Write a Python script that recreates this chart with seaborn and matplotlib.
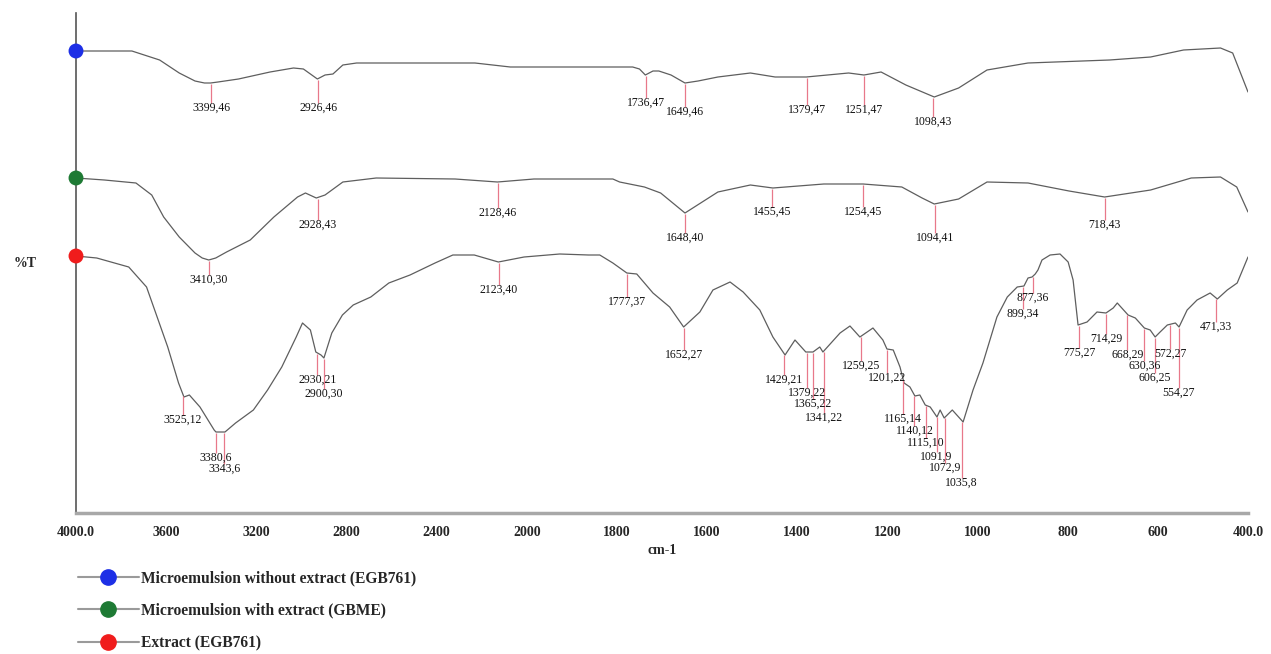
import numpy as np
import pandas as pd
import matplotlib
matplotlib.use("Agg")
import matplotlib.pyplot as plt
from matplotlib.lines import Line2D
from matplotlib.font_manager import FontProperties
import seaborn as sns

sns.set_style("white")
plt.rcParams["font.family"] = ["Liberation Serif", "DejaVu Serif"]

# ---------------- data (wavenumber cm-1, offset %T in arbitrary units) ----------------
series_names = ["Microemulsion without extract (EGB761)",
                "Microemulsion with extract (GBME)",
                "Extract (EGB761)"]

blue_wn = [4000, 3752, 3629, 3542, 3472, 3430, 3403, 3370, 3279, 3139, 3035, 2991, 2929,
           2895, 2860, 2816, 2755, 2230, 2073, 1765, 1750, 1737, 1720, 1707, 1680, 1649,
           1620, 1576, 1504, 1449, 1380, 1286, 1252, 1214, 1159, 1096, 1042, 979, 888, 707,
           616, 543, 461, 434, 400]
blue_T = [462, 462, 453, 440, 432, 430, 430, 431, 434, 441, 445, 444, 434,
          438, 439, 448, 450, 450, 446, 446, 444, 438, 442, 442, 438, 430,
          432, 436, 440, 436, 436, 440, 438, 441, 428, 416, 425, 443, 450, 453,
          456, 463, 465, 460, 421]

green_wn = [4000, 3874, 3734, 3664, 3611, 3542, 3472, 3440, 3411, 3380, 3332, 3227, 3122,
            3017, 2982, 2934, 2895, 2816, 2668, 2318, 2130, 1984, 1809, 1794, 1739, 1703,
            1649, 1576, 1504, 1454, 1341, 1254, 1168, 1123, 1096, 1042, 979, 888, 797, 718,
            616, 526, 461, 425, 400]
green_T = [335, 333, 330, 318, 296, 276, 260, 255, 253, 255, 261, 273, 296,
           316, 320, 315, 318, 331, 335, 334, 331, 334, 334, 331, 326, 320,
           300, 321, 328, 325, 329, 329, 326, 315, 309, 314, 331, 330, 322, 316,
           323, 335, 336, 326, 301]

red_wn = [4000, 3908, 3766, 3687, 3640, 3593, 3545, 3521, 3497, 3450, 3387, 3379, 3339,
          3292, 3213, 3150, 3087, 3023, 2995, 2960, 2936, 2913, 2900, 2865, 2818, 2770,
          2692, 2612, 2518, 2407, 2328, 2233, 2126, 2012, 1927, 1863, 1838, 1809, 1778,
          1756, 1720, 1683, 1652, 1616, 1587, 1549, 1520, 1483, 1454, 1427, 1405, 1381,
          1365, 1350, 1343, 1305, 1283, 1261, 1232, 1210, 1201, 1187, 1172, 1163, 1150,
          1139, 1128, 1116, 1105, 1090, 1083, 1074, 1056, 1032, 1010, 988, 957, 934, 912,
          897, 888, 879, 872, 866, 857, 839, 817, 799, 788, 777, 757, 735, 715, 699, 690,
          672, 666, 650, 630, 617, 606, 595, 579, 570, 561, 553, 535, 513, 484, 468, 446,
          424, 400]
red_T = [257, 255, 246, 226, 196, 166, 130, 116, 118, 106, 83, 81, 81,
         90, 103, 123, 146, 176, 190, 183, 161, 158, 155, 180, 198, 208,
         216, 230, 238, 250, 258, 258, 251, 256, 259, 258, 258, 250, 240,
         239, 220, 206, 186, 201, 223, 231, 221, 203, 176, 158, 173, 161,
         161, 166, 161, 180, 187, 176, 185, 173, 164, 163, 146, 130, 126,
         117, 118, 108, 106, 96, 103, 95, 103, 91, 123, 150, 196, 216, 226,
         227, 235, 236, 239, 243, 253, 258, 259, 251, 233, 188, 191, 201, 200, 205, 210,
         201, 198, 195, 185, 183, 176, 181, 188, 189, 190, 186, 203, 213, 220, 214, 223,
         230, 256]

# annotated peaks: wavenumber and %T value printed in the label
blue_peak_wn = [3399, 2926, 1736, 1649, 1379, 1251, 1098]
blue_peak_T = [46, 46, 47, 46, 47, 47, 43]
green_peak_wn = [3410, 2928, 2128, 1648, 1455, 1254, 1094, 718]
green_peak_T = [30, 43, 46, 40, 45, 45, 41, 43]
red_peak_wn = [3525, 3380, 3343, 2930, 2900, 2123, 1777, 1652, 1429, 1379, 1365, 1341,
               1259, 1201, 1165, 1140, 1115, 1091, 1072, 1035, 899, 877, 775, 714, 668,
               630, 606, 572, 554, 471]
red_peak_T = [12, 6, 6, 21, 30, 40, 37, 27, 21, 22, 22, 22,
              25, 22, 14, 12, 10, 9, 9, 8, 34, 36, 27, 29, 29,
              36, 25, 27, 27, 33]

x_ticks = [4000, 3600, 3200, 2800, 2400, 2000, 1800, 1600, 1400, 1200, 1000, 800, 600, 400]
x_tick_labels = ["4000.0", "3600", "3200", "2800", "2400", "2000", "1800", "1600",
                 "1400", "1200", "1000", "800", "600", "400.0"]

# ---------------- layout (label text centre heights, same units as y axis) ----------------
blue_label_y = [405, 405, 410, 401, 403, 403, 391]
green_label_y = [233, 288, 300, 275, 301, 301, 275, 288]
red_label_y = [93, 55, 44, 133, 119, 223, 211, 158, 133, 120, 109, 95,
               147, 135, 94, 82, 70, 56, 45, 30, 199, 215, 160, 174, 158,
               147, 135, 159, 120, 186]

dot_colors = ["#1d2fe6", "#1e7a34", "#f01c1c"]
curve_color = "#5e5e5e"
tick_color = "#e8788a"

frames = []
for name, wn, T in zip(series_names, [blue_wn, green_wn, red_wn], [blue_T, green_T, red_T]):
    frames.append(pd.DataFrame({"wavenumber": wn, "T": T, "series": name}))
df = pd.concat(frames, ignore_index=True)

fig = plt.figure(figsize=(12.71, 6.54), dpi=100)
ax = fig.add_axes([76 / 1271, 1 - 513 / 654, (1248 - 76) / 1271, 500 / 654])

sns.lineplot(data=df, x="wavenumber", y="T", hue="series",
             palette={n: curve_color for n in series_names},
             estimator=None, sort=False, legend=False, lw=0.9, ax=ax)


def fwd(w):
    w = np.asarray(w, dtype=float)
    return np.where(w > 2000, 2000 + (w - 2000) / 2.0, w)


def inv(t):
    t = np.asarray(t, dtype=float)
    return np.where(t > 2000, 2000 + (t - 2000) * 2.0, t)


ax.set_xscale("function", functions=(fwd, inv))
ax.set_xlim(4000, 400)
ax.set_ylim(0, 500)

# peak markers and labels
lab_font = FontProperties(family="Liberation Serif", size=8.5)
for wn, T, pk, pt, ly in [(blue_wn, blue_T, blue_peak_wn, blue_peak_T, blue_label_y),
                          (green_wn, green_T, green_peak_wn, green_peak_T, green_label_y),
                          (red_wn, red_T, red_peak_wn, red_peak_T, red_label_y)]:
    xs = np.asarray(wn, float)[::-1]
    ys = np.asarray(T, float)[::-1]
    for p, t, yl in zip(pk, pt, ly):
        yc = np.interp(p, xs, ys)
        ax.vlines(p, yl + 5, yc - 1, colors=tick_color, lw=0.9, zorder=2)
        ax.text(p, yl, f"{p},{t}", ha="center", va="center", fontproperties=lab_font,
                color="#111111", zorder=3)

# start dots
starts = [blue_T[0], green_T[0], red_T[0]]
ax.scatter([4000] * 3, starts, s=115, c=dot_colors, zorder=6, clip_on=False, linewidths=0)

# axes styling
for s in ["top", "right"]:
    ax.spines[s].set_visible(False)
ax.spines["left"].set_color("#555555")
ax.spines["left"].set_linewidth(1.2)
ax.spines["bottom"].set_color("#a8a8a8")
ax.spines["bottom"].set_linewidth(2.5)

ax.set_xticks(x_ticks)
ax.set_xticklabels(x_tick_labels)
ax.minorticks_off()
ax.set_yticks(np.arange(50, 501, 50))
ax.tick_params(axis="x", direction="out", length=5, width=1.2, color="#999999", pad=4,
               labelsize=10)
ax.tick_params(axis="y", direction="out", length=4, width=1.0, color="#777777",
               labelleft=False)
for lab in ax.get_xticklabels():
    lab.set_fontweight("bold")

ax.set_xlabel("cm-1", fontsize=10, fontweight="bold", labelpad=4)
ax.set_ylabel("")
fig.text(25 / 1271, 1 - 263 / 654, "%T", ha="center", va="center", fontsize=10,
         fontweight="bold")

handles = [Line2D([], [], color="#9a9a9a", lw=1.5, marker="o", ms=11,
                  markerfacecolor=c, markeredgecolor=c) for c in dot_colors]
fig.legend(handles, series_names, loc="upper left",
           bbox_to_anchor=(78 / 1271, 1 - 570 / 654), frameon=False,
           prop=FontProperties(family="Liberation Serif", weight="bold", size=11.2),
           handlelength=3.9, handletextpad=0.12, labelspacing=1.08,
           borderpad=0, borderaxespad=0)

fig.savefig("out.png", dpi=100)
